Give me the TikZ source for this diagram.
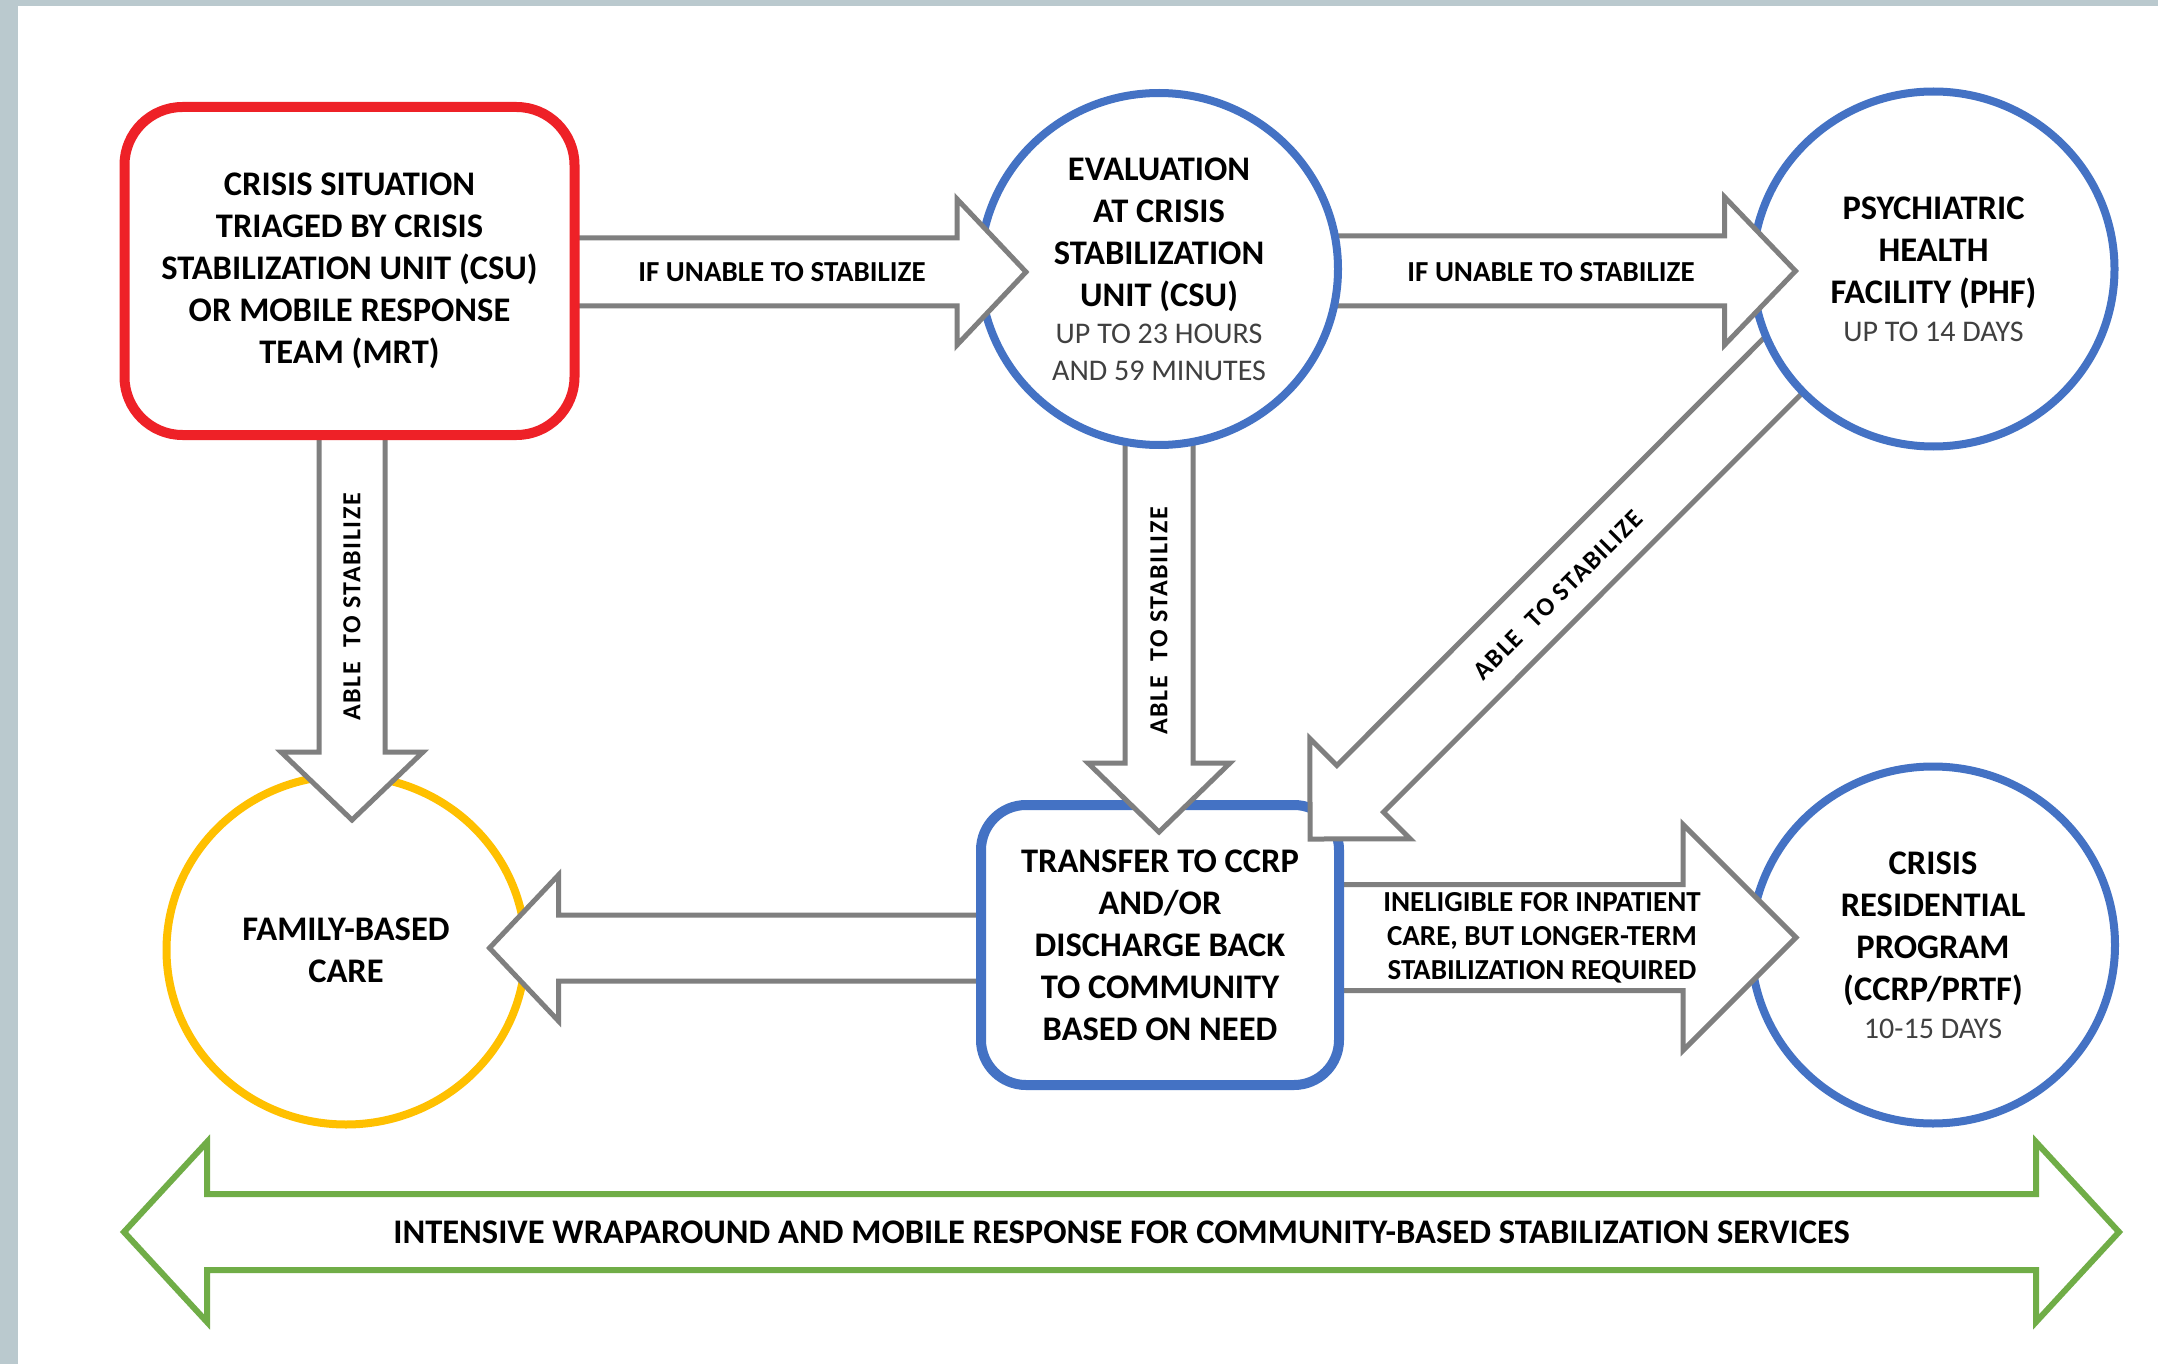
\documentclass[tikz,border=0pt]{standalone}
\usepackage{fontspec}
\setmainfont{Carlito}
\usetikzlibrary{calc,shapes.geometric}
\definecolor{bggray}{HTML}{BAC9CE}
\definecolor{cred}{HTML}{EE2127}
\definecolor{cblue}{HTML}{4472C4}
\definecolor{cyellow}{HTML}{FFC000}
\definecolor{cgreen}{HTML}{70AD47}
\definecolor{agray}{HTML}{7F7F7F}
\definecolor{txtgray}{HTML}{404040}
\pgfdeclarelayer{l0}\pgfdeclarelayer{l1}\pgfdeclarelayer{l2}\pgfdeclarelayer{l3}
\pgfdeclarelayer{l4}\pgfdeclarelayer{l5}\pgfdeclarelayer{l6}\pgfdeclarelayer{l7}
\pgfdeclarelayer{l8}\pgfdeclarelayer{l9}
\pgfsetlayers{l0,l1,l2,l3,l4,l5,l6,l7,l8,l9,main}
\newcommand\blockarrow[5]{%
  \coordinate (ba-s) at #1;
  \coordinate (ba-t) at #2;
  \coordinate (ba-h) at ($(ba-t)!#5!(ba-s)$);
  \filldraw[arrowline] ($(ba-s)!#3!90:(ba-t)$) -- ($(ba-h)!#3!90:(ba-t)$) -- ($(ba-h)!#4!90:(ba-t)$) -- (ba-t) -- ($(ba-h)!#4!-90:(ba-t)$) -- ($(ba-h)!#3!-90:(ba-t)$) -- ($(ba-s)!#3!-90:(ba-t)$) -- cycle;
}
\newcommand\subtxt[1]{{\fontsize{30}{37}\selectfont\mdseries\color{txtgray}#1}}
\tikzset{
  base/.style={inner sep=0pt, outer sep=0pt, align=center, fill=white,
    font=\fontsize{34.5}{42}\selectfont\bfseries},
  redbox/.style={base, rectangle, draw=cred, line width=10pt, rounded corners=58pt,
    minimum width=450pt, minimum height=328pt},
  bluebox/.style={base, rectangle, draw=cblue, line width=10pt, rounded corners=45pt,
    minimum width=358pt, minimum height=280pt},
  blueell/.style={base, ellipse, draw=cblue, line width=8pt},
  yellowell/.style={base, ellipse, draw=cyellow, line width=8pt},
  arrowline/.style={draw=agray, fill=white, line width=5pt, line join=miter},
  alabel/.style={inner sep=0pt, font=\fontsize{29}{34}\selectfont\bfseries, align=center},
  vlabel/.style={inner sep=0pt, font=\fontsize{26}{34}\selectfont\bfseries\addfontfeatures{LetterSpace=6}},
}
\begin{document}
\begin{tikzpicture}[x=1pt,y=-1pt]
\useasboundingbox (0,0) rectangle (2158,1364);
\begin{pgfonlayer}{l0}
  \fill[bggray] (0,0) rectangle (2158,1364);
  \fill[white] (18,6) rectangle (2158,1364);
\end{pgfonlayer}
% nodes
\begin{pgfonlayer}{l1}
  \node[yellowell, minimum width=359pt, minimum height=349pt] (family) at (346,950) {FAMILY-BASED\\CARE};
  \node[blueell, minimum width=364pt, minimum height=357pt] (residential) at (1933,945)
    {CRISIS\\RESIDENTIAL\\PROGRAM\\(CCRP/PRTF)\\[-4pt]\subtxt{10-15 DAYS}};
\end{pgfonlayer}
\begin{pgfonlayer}{l3}
  \node[bluebox] (transfer) at (1160,945)
    {TRANSFER TO CCRP\\AND/OR\\DISCHARGE BACK\\TO COMMUNITY\\BASED ON NEED};
\end{pgfonlayer}
\begin{pgfonlayer}{l5}
  \node[blueell, minimum width=362pt, minimum height=355pt] (phf) at (1933.5,269)
    {PSYCHIATRIC\\HEALTH\\FACILITY (PHF)\\[-4pt]\subtxt{UP TO 14 DAYS}};
\end{pgfonlayer}
\begin{pgfonlayer}{l7}
  \node[blueell, minimum width=358pt, minimum height=352pt] (csu) at (1159,269)
    {EVALUATION\\AT CRISIS\\STABILIZATION\\UNIT (CSU)\\[-5pt]\subtxt{UP TO 23 HOURS}\\[-5pt]\subtxt{AND 59 MINUTES}};
\end{pgfonlayer}
\begin{pgfonlayer}{l9}
  \node[redbox] (triage) at (349.5,271)
    {CRISIS SITUATION\\TRIAGED BY CRISIS\\STABILIZATION UNIT (CSU)\\OR MOBILE RESPONSE\\TEAM (MRT)};
\end{pgfonlayer}
% connectors
\begin{pgfonlayer}{l2}
  \blockarrow{($(transfer.center)+(0,3)$)}{($(family.east)+(-36,-2)$)}{33pt}{73pt}{69pt}
  \blockarrow{($(transfer.center)+(0,-7.5)$)}{($(residential.west)+(45,-7.5)$)}{53pt}{113pt}{113pt}
\end{pgfonlayer}
\begin{pgfonlayer}{l4}
  \blockarrow{(csu.center)}{($(transfer.north)+(-1,27)$)}{34pt}{71pt}{69pt}
  \blockarrow{($(phf.center)+(-27,-27)$)}{($(transfer.north east)+(-29,34)$)}{33pt}{71pt}{71pt}
\end{pgfonlayer}
\begin{pgfonlayer}{l6}
  \blockarrow{($(csu.center)+(0,2)$)}{($(phf.west)+(43,2)$)}{35pt}{74pt}{71pt}
\end{pgfonlayer}
\begin{pgfonlayer}{l8}
  \blockarrow{($(triage.center)+(0,1)$)}{($(csu.west)+(46,3)$)}{34pt}{73pt}{69pt}
  \blockarrow{($(triage.center)+(2.5,0)$)}{($(family.north)+(6,44.5)$)}{33pt}{71pt}{68pt}
\end{pgfonlayer}
% arrow labels
\node[alabel] (labA) at (782,272) {IF UNABLE TO STABILIZE};
\node[alabel] (labB) at (1551,272) {IF UNABLE TO STABILIZE};
\node[vlabel, rotate=90] (labC) at (352,607) {ABLE\ \ TO STABILIZE};
\node[vlabel, rotate=90] (labD) at (1159,621) {ABLE\ \ TO STABILIZE};
\node[vlabel, rotate=45] (labE) at (1558,595) {ABLE\ \ TO STABILIZE};
\node[alabel] (labG) at (1542,938) {INELIGIBLE FOR INPATIENT\\CARE, BUT LONGER-TERM\\STABILIZATION REQUIRED};
% green double arrow
\coordinate (gl) at (124,1232);
\coordinate (gr) at (2119,1232);
\filldraw[draw=cgreen, fill=white, line width=6pt, line join=miter]
  (gl) -- ($(gl)+(83,-90)$) -- ($(gl)+(83,-38)$) -- ($(gr)+(-83,-38)$) -- ($(gr)+(-83,-90)$)
  -- (gr) -- ($(gr)+(-83,90)$) -- ($(gr)+(-83,38)$) -- ($(gl)+(83,38)$) -- ($(gl)+(83,90)$) -- cycle;
\node[alabel, font=\fontsize{34.5}{38}\selectfont\bfseries] (labH) at ($(gl)!0.5!(gr)$)
  {INTENSIVE WRAPAROUND AND MOBILE RESPONSE FOR COMMUNITY-BASED STABILIZATION SERVICES};
\end{tikzpicture}
\end{document}
